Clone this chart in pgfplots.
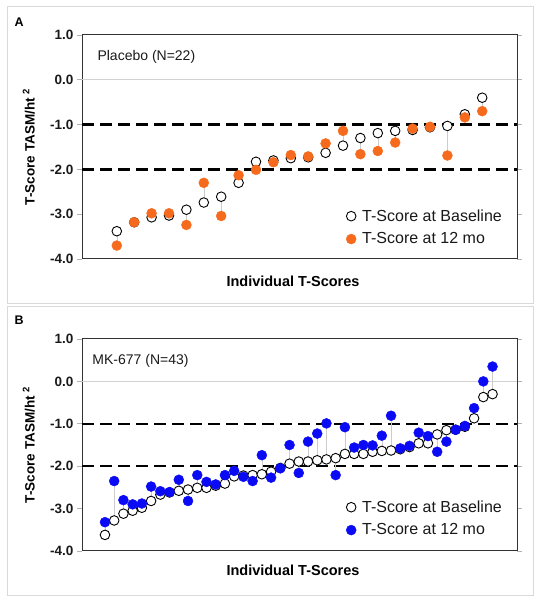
\documentclass[border=0pt]{standalone}
\usepackage{fontspec}
\setmainfont{Liberation Sans}
\usepackage{pgfplots}
\usepackage{pgfplotstable}
\pgfplotsset{compat=1.18}
\definecolor{orng}{RGB}{245,106,28}
\definecolor{blu}{RGB}{10,10,245}

\pgfplotstableread{
i base m12
1 -3.38 -3.70
2 -3.18 -3.18
3 -3.07 -2.98
4 -3.03 -2.98
5 -2.90 -3.24
6 -2.74 -2.30
7 -2.61 -3.04
8 -2.30 -2.13
9 -1.83 -2.01
10 -1.80 -1.84
11 -1.75 -1.68
12 -1.73 -1.71
13 -1.63 -1.42
14 -1.47 -1.14
15 -1.30 -1.66
16 -1.19 -1.59
17 -1.14 -1.40
18 -1.12 -1.09
19 -1.06 -1.05
20 -1.03 -1.69
21 -0.77 -0.84
22 -0.40 -0.70
}\dataA

\pgfplotstableread{
i base m12
1 -3.62 -3.32
2 -3.28 -2.35
3 -3.12 -2.80
4 -3.05 -2.90
5 -2.98 -2.88
6 -2.82 -2.48
7 -2.67 -2.59
8 -2.62 -2.61
9 -2.58 -2.32
10 -2.55 -2.82
11 -2.51 -2.21
12 -2.51 -2.37
13 -2.46 -2.43
14 -2.41 -2.21
15 -2.24 -2.11
16 -2.22 -2.25
17 -2.21 -2.35
18 -2.19 -1.74
19 -2.13 -2.27
20 -2.04 -2.05
21 -1.94 -1.50
22 -1.89 -2.16
23 -1.89 -1.42
24 -1.86 -1.23
25 -1.84 -0.99
26 -1.81 -2.21
27 -1.71 -1.08
28 -1.71 -1.56
29 -1.71 -1.50
30 -1.66 -1.51
31 -1.64 -1.28
32 -1.63 -0.81
33 -1.60 -1.58
34 -1.55 -1.52
35 -1.46 -1.21
36 -1.46 -1.29
37 -1.25 -1.66
38 -1.15 -1.42
39 -1.14 -1.14
40 -1.07 -1.05
41 -0.87 -0.63
42 -0.37 0.00
43 -0.30 0.35
}\dataB

\pgfplotsset{
  panel/.style={
    scale only axis, width=435pt,
    ymin=-4, ymax=1,
    ytick={-4,-3,-2,-1,0,1},
    yticklabels={-4.0,-3.0,-2.0,-1.0,0.0,1.0},
    xtick=\empty,
    axis line style={black!80, line width=1pt},
    tick align=outside, major tick length=5pt,
    ytick style={gray!60, line width=0.8pt},
    yticklabel style={font=\fontsize{13.5}{16}\selectfont\bfseries, text=black!90},
    ylabel={T-Score TASM/ht \textsuperscript{2}},
    ylabel style={font=\fontsize{13.5}{16}\selectfont\bfseries, at={(axis description cs:-0.122,0.5)}, anchor=center},
    xlabel={Individual T-Scores},
    xlabel style={font=\fontsize{14.5}{17}\selectfont\bfseries, at={(axis description cs:0.485,0)}, anchor=center},
    legend style={draw=none, fill=none, font=\fontsize{16}{19}\selectfont, text=black!90,
      nodes={inner sep=1pt}, column sep=5pt, row sep=8pt, anchor=west},
    legend cell align=left,
    clip=false,
  },
  conn/.style={draw=none, no markers, mark size=0pt, forget plot,
    error bars/.cd, y dir=both, y explicit, error mark=none,
    error bar style={draw=gray!40, line width=0.5pt, solid}},
  openm/.style={only marks, mark=*, mark size=4.8pt, color=black,
    mark options={fill=white, draw=black, line width=0.9pt},
    legend image code/.code={\draw[##1] plot coordinates {(0pt,0pt)};}},
  fillm/.style={only marks, mark=*, mark size=5pt, color=#1,
    mark options={fill=#1, draw=#1, line width=0.4pt, solid},
    legend image code/.code={\draw[##1] plot coordinates {(0pt,0pt)};}},
}

\begin{document}
\begin{tikzpicture}
\path (0pt,0pt) rectangle (545pt,601pt);
\draw[black!15, line width=1pt] (7pt,297pt) rectangle (533pt,594pt);
\draw[black!15, line width=1pt] (7pt,5pt) rectangle (533pt,294pt);
\node[anchor=west, font=\fontsize{12.5}{15}\selectfont\bfseries] at (11pt,579pt) {A};
\node[anchor=west, font=\fontsize{12.5}{15}\selectfont\bfseries] at (11pt,281pt) {B};

% Panel A
\begin{axis}[panel, at={(82pt,342pt)}, anchor=south west, height=224pt,
  xmin=-1, xmax=24,
  xlabel style={yshift=-22pt},
  legend style={at={(axis description cs:0.600,0.1406)}}]
\addplot[gray!35, line width=0.8pt, forget plot] coordinates {(-1,0) (24,0)};
\addplot[black, line width=2.3pt, dash pattern=on 12pt off 6pt, forget plot] coordinates {(-1,-1) (24,-1)};
\addplot[black, line width=2.3pt, dash pattern=on 12pt off 6pt, forget plot] coordinates {(-1,-2) (24,-2)};
\addplot[conn] table[x=i, y expr={(\thisrow{base}+\thisrow{m12})/2}, y error expr={abs(\thisrow{base}-\thisrow{m12})/2}] {\dataA};
\addplot[openm] table[x=i, y=base] {\dataA};
\addplot[fillm=orng] table[x=i, y=m12] {\dataA};
\legend{T-Score at Baseline, T-Score at 12 mo}
\node[anchor=west, font=\fontsize{14}{16}\selectfont, text=black!90] at (axis description cs:0.0276,0.902) {Placebo (N=22)};
\end{axis}

% Panel B
\begin{axis}[panel, at={(82pt,50pt)}, anchor=south west, height=212pt,
  xmin=-1.49, xmax=45.65,
  xlabel style={yshift=-19pt},
  legend style={at={(axis description cs:0.600,0.153)}}]
\addplot[gray!35, line width=0.8pt, forget plot] coordinates {(-1.49,0) (45.65,0)};
\addplot[black, line width=2.3pt, dash pattern=on 12pt off 6pt, forget plot] coordinates {(-1.49,-1) (45.65,-1)};
\addplot[black, line width=2.3pt, dash pattern=on 12pt off 6pt, forget plot] coordinates {(-1.49,-2) (45.65,-2)};
\addplot[conn] table[x=i, y expr={(\thisrow{base}+\thisrow{m12})/2}, y error expr={abs(\thisrow{base}-\thisrow{m12})/2}] {\dataB};
\addplot[openm] table[x=i, y=base] {\dataB};
\addplot[fillm=blu] table[x=i, y=m12] {\dataB};
\legend{T-Score at Baseline, T-Score at 12 mo}
\node[anchor=west, font=\fontsize{14}{16}\selectfont, text=black!90] at (axis description cs:0.016,0.896) {MK-677 (N=43)};
\end{axis}
\end{tikzpicture}
\end{document}
